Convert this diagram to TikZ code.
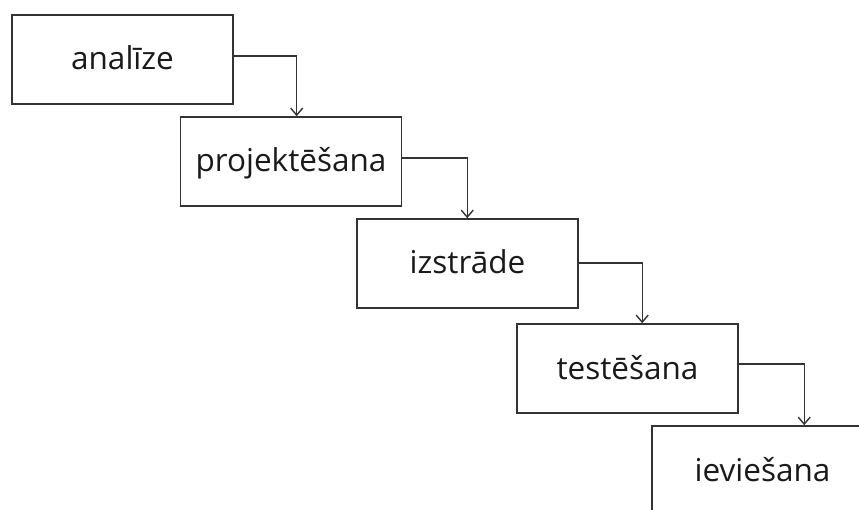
\documentclass[tikz,border=0pt]{standalone}
\usepackage{fontspec}
\setmainfont{Open Sans}
\usetikzlibrary{arrows.meta}
\definecolor{ln}{HTML}{333333}
\definecolor{tx}{HTML}{1A1A1A}
\begin{document}
\begin{tikzpicture}[x=1pt,y=1pt,
  box/.style={draw=ln,line width=1.6pt,minimum width=221pt,minimum height=89pt,
    inner sep=0pt,text height=21pt,text depth=0pt,font=\fontsize{31.5}{36}\selectfont,text=tx},
  arr/.style={draw=ln,line width=1.4pt,-{Straight Barb[length=7pt,width=12pt,line width=1.4pt]}}]
\fill[white] (0,0) rectangle (859,-510);
\useasboundingbox (0,0) rectangle (859,-510);
\clip (0,0) rectangle (859,-510);
\node[box] (b1) at (122.5,-59.5) {analīze\hspace{16pt}};
\node[box] (b2) at (291,-161.5) {projektēšana\hspace{6pt}};
\node[box] (b3) at (467.5,-263.5) {izstrāde};
\node[box] (b4) at (627.5,-368.5) {testēšana};
\node[box] (b5) at (762.5,-470.5) {ieviešana};
\draw[arr] ([yshift=3.5pt]b1.east) -| ([xshift=117pt]b2.north west);
\draw[arr] ([yshift=3.5pt]b2.east) -| ([xshift=111pt]b3.north west);
\draw[arr] ([yshift=0.5pt]b3.east) -| ([xshift=126pt]b4.north west);
\draw[arr] ([yshift=4.5pt]b4.east) -| ([xshift=153pt]b5.north west);
\end{tikzpicture}
\end{document}
